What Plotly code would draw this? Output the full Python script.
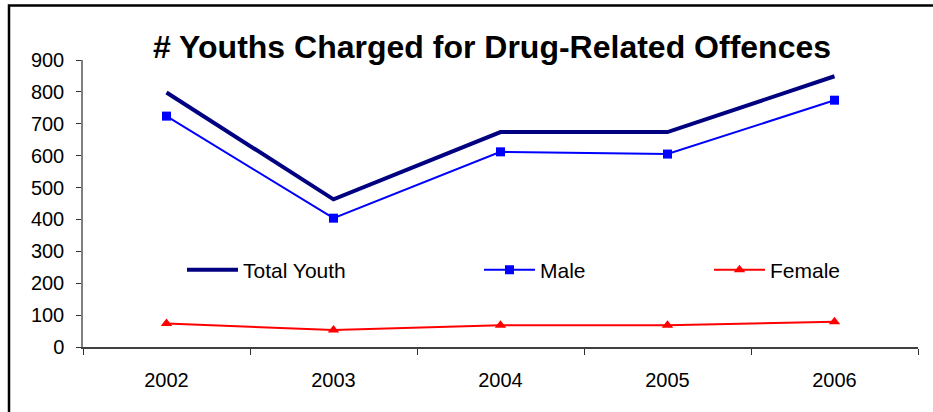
import plotly.graph_objects as go

years = ["2002", "2003", "2004", "2005", "2006"]
total_youth = [798, 463, 674, 674, 849]
male = [724, 404, 612, 605, 774]
female = [74, 53, 68, 68, 79]
y_ticks = [0, 100, 200, 300, 400, 500, 600, 700, 800, 900]

W, H = 933, 412
ML, MR, MT, MB = 83, 15, 60, 65
PW = W - ML - MR
PH = H - MT - MB

def px_x(p):
    return (p - ML) / PW

def px_y(p):
    return (H - MB - p) / PH

FONT = "Liberation Sans, Arial, sans-serif"

fig = go.Figure()
fig.add_trace(go.Scatter(
    x=years, y=total_youth, name="Total Youth", mode="lines",
    line=dict(color="#000080", width=4), legend="legend"))
fig.add_trace(go.Scatter(
    x=years, y=male, name="Male", mode="lines+markers",
    line=dict(color="#0000FF", width=2),
    marker=dict(symbol="square", size=9, color="#0000FF"), legend="legend2"))
fig.add_trace(go.Scatter(
    x=years, y=female, name="Female", mode="lines+markers",
    line=dict(color="#FF0000", width=2),
    marker=dict(symbol="triangle-up", size=10, color="#FF0000"), legend="legend3"))

leg_common = dict(font=dict(family=FONT, size=21, color="black"),
                  bgcolor="rgba(0,0,0,0)", yanchor="middle", xanchor="left",
                  orientation="h", itemwidth=51)

fig.update_layout(
    width=W, height=H,
    margin=dict(l=ML, r=MR, t=MT, b=MB),
    paper_bgcolor="white", plot_bgcolor="white",
    font=dict(family=FONT, size=20, color="black"),
    title=dict(text="<b># Youths Charged for Drug-Related Offences</b>",
               font=dict(family=FONT, size=32, color="black"),
               x=px_x(492), xref="paper", xanchor="center",
               y=1 - 47 / H, yref="container", yanchor="middle"),
    legend=dict(x=px_x(182), y=px_y(270), **leg_common),
    legend2=dict(x=px_x(479), y=px_y(270), **leg_common),
    legend3=dict(x=px_x(709), y=px_y(270), **leg_common),
    xaxis=dict(type="category", range=[-0.5, 4.5], tickson="boundaries",
               ticks="outside", ticklen=6, tickcolor="#303030", showline=True,
               linecolor="#404040", linewidth=1.5, showgrid=False,
               ticklabelstandoff=14, tickfont=dict(size=20)),
    yaxis=dict(range=[0, 900], tickvals=y_ticks, ticks="outside", ticklen=5,
               tickcolor="#303030", showline=True, linecolor="#808080",
               linewidth=1.5, showgrid=False, zeroline=False,
               ticklabelstandoff=8, tickfont=dict(size=20)),
    shapes=[dict(type="rect", xref="paper", yref="paper",
                 x0=px_x(9), x1=px_x(945), y0=px_y(430), y1=px_y(5.5),
                 line=dict(color="black", width=2.5), fillcolor="rgba(0,0,0,0)",
                 layer="above")],
    showlegend=True,
)

fig.write_html("out.html", config={"displayModeBar": False},
               post_script="document.body.style.margin='0';document.body.style.padding='0';")
